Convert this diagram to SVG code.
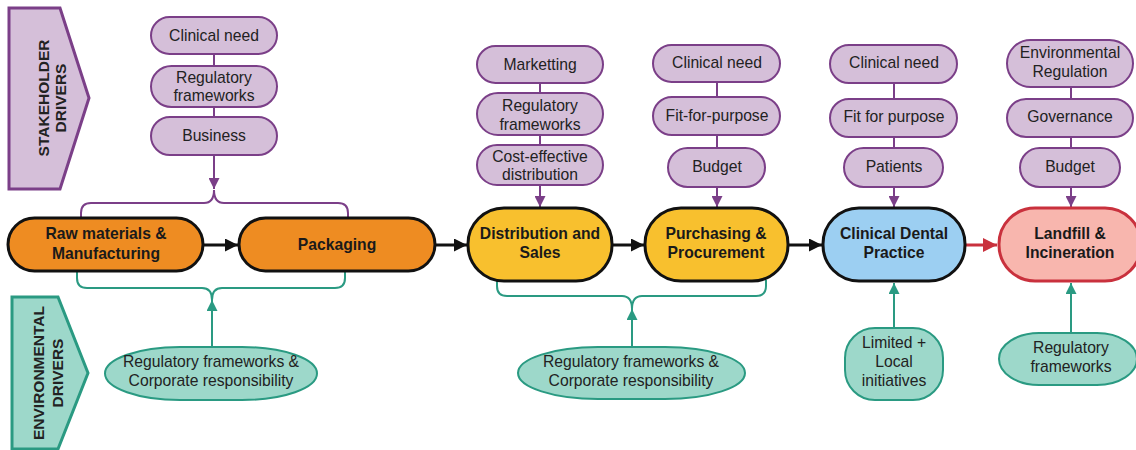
<svg xmlns="http://www.w3.org/2000/svg" width="1136" height="450" viewBox="0 0 1136 450">
<defs>
<style>
text{font-family:"Liberation Sans",Arial,sans-serif;fill:#222;text-anchor:middle}
.d{font-size:15.7px}
.m{font-size:15.7px;font-weight:bold;fill:#1a1a1a}
.lab{font-size:15.5px;font-weight:bold;fill:#222}
.sp{fill:#d5bfd9;stroke:#7b3f88;stroke-width:2}
.ep{fill:#9dd8ca;stroke:#2a9a82;stroke-width:2}
.or{fill:#ee8c22;stroke:#111;stroke-width:3}
.ye{fill:#f8c02e;stroke:#111;stroke-width:3}
.bl{fill:#9ccff2;stroke:#111;stroke-width:3}
.rd{fill:#f8b6ae;stroke:#c9313d;stroke-width:3}
.pl{stroke:#7b3f88;stroke-width:2;fill:none}
.tl{stroke:#2a9a82;stroke-width:2;fill:none}
.bk{stroke:#111;stroke-width:3;fill:none}
.rl{stroke:#c9313d;stroke-width:3;fill:none}
</style>
<marker id="ab" viewBox="0 0 10 10" refX="10" refY="5" markerWidth="15" markerHeight="13" markerUnits="userSpaceOnUse" orient="auto"><path d="M0,0 L10,5 L0,10 z" fill="#111"/></marker>
<marker id="ar" viewBox="0 0 10 10" refX="10" refY="5" markerWidth="16" markerHeight="14" markerUnits="userSpaceOnUse" orient="auto"><path d="M0,0 L10,5 L0,10 z" fill="#c9313d"/></marker>
<marker id="ap" viewBox="0 0 10 10" refX="10" refY="5" markerWidth="13" markerHeight="11" markerUnits="userSpaceOnUse" orient="auto"><path d="M0,0 L10,5 L0,10 z" fill="#7b3f88"/></marker>
<marker id="at" viewBox="0 0 10 10" refX="10" refY="5" markerWidth="14" markerHeight="11" markerUnits="userSpaceOnUse" orient="auto"><path d="M0,0 L10,5 L0,10 z" fill="#2a9a82"/></marker>
</defs>
<rect width="1136" height="450" fill="#fff"/>

<g id="stakeholder-label">
<path d="M9,8 L60,8 L89,98 L60,189 L9,189 Z" fill="#d5bfd9" stroke="#7b3f88" stroke-width="3"/>
<text class="lab" transform="translate(49,98) rotate(-90)">STAKEHOLDER</text>
<text class="lab" transform="translate(66,98) rotate(-90)">DRIVERS</text>
</g>
<g id="environmental-label">
<path d="M12,297 L58,297 L88,373 L58,449 L12,449 Z" fill="#9dd8ca" stroke="#2a9a82" stroke-width="3"/>
<text class="lab" transform="translate(44,373) rotate(-90)">ENVIRONMENTAL</text>
<text class="lab" transform="translate(63,373) rotate(-90)">DRIVERS</text>
</g>

<g id="connectors">
<line class="pl" x1="214" y1="54" x2="214" y2="66"/>
<line class="pl" x1="214" y1="107" x2="214" y2="117"/>
<line class="pl" x1="214" y1="155" x2="214" y2="189" marker-end="url(#ap)"/>
<path class="pl" d="M81,218 L81,213 Q81,203 91,203 L204,203 Q214,203 214,190 Q214,203 224,203 L338,203 Q348,203 348,213 L348,218"/>
<line class="pl" x1="540" y1="83" x2="540" y2="93"/>
<line class="pl" x1="540" y1="135" x2="540" y2="145"/>
<line class="pl" x1="540" y1="185" x2="540" y2="207" marker-end="url(#ap)"/>
<line class="pl" x1="717" y1="82" x2="717" y2="97"/>
<line class="pl" x1="717" y1="135" x2="717" y2="148"/>
<line class="pl" x1="717" y1="187" x2="717" y2="207" marker-end="url(#ap)"/>
<line class="pl" x1="894" y1="83" x2="894" y2="99"/>
<line class="pl" x1="894" y1="137" x2="894" y2="148"/>
<line class="pl" x1="894" y1="187" x2="894" y2="207" marker-end="url(#ap)"/>
<line class="pl" x1="1071" y1="87" x2="1071" y2="99"/>
<line class="pl" x1="1071" y1="137" x2="1071" y2="148"/>
<line class="pl" x1="1071" y1="187" x2="1071" y2="207" marker-end="url(#ap)"/>
<path class="tl" d="M77,271 L77,278 Q77,288 87,288 L202,288 Q212,288 212,300 Q212,288 222,288 L335,288 Q345,288 345,278 L345,271"/>
<line class="tl" x1="212" y1="347" x2="212" y2="300" marker-end="url(#at)"/>
<path class="tl" d="M497,280 L497,286 Q497,296 507,296 L622,296 Q632,296 632,309 Q632,296 642,296 L756,296 Q766,296 766,286 L766,280"/>
<line class="tl" x1="632" y1="347" x2="632" y2="309" marker-end="url(#at)"/>
<line class="tl" x1="894" y1="328" x2="894" y2="283" marker-end="url(#at)"/>
<line class="tl" x1="1071" y1="333" x2="1071" y2="283" marker-end="url(#at)"/>
<line class="bk" x1="204" y1="245" x2="238" y2="245" marker-end="url(#ab)"/>
<line class="bk" x1="436" y1="245" x2="467" y2="245" marker-end="url(#ab)"/>
<line class="bk" x1="613" y1="245" x2="644" y2="245" marker-end="url(#ab)"/>
<line class="bk" x1="789" y1="245" x2="822" y2="245" marker-end="url(#ab)"/>
<line class="rl" x1="966" y1="245" x2="997" y2="245" marker-end="url(#ar)"/>
</g>

<g id="s1-clinical-need"><rect class="sp" x="151" y="17" width="126" height="37" rx="18.5"/><text class="d" x="214" y="41">Clinical need</text></g>
<g id="s1-regulatory"><rect class="sp" x="151" y="66" width="126" height="41" rx="20.5"/><text class="d" x="214" y="83">Regulatory</text><text class="d" x="214" y="101">frameworks</text></g>
<g id="s1-business"><rect class="sp" x="151" y="117" width="126" height="38" rx="19"/><text class="d" x="214" y="141">Business</text></g>

<g id="s2-marketting"><rect class="sp" x="477" y="46" width="126" height="37" rx="18.5"/><text class="d" x="540" y="70">Marketting</text></g>
<g id="s2-regulatory"><rect class="sp" x="477" y="93" width="126" height="42" rx="21"/><text class="d" x="540" y="111">Regulatory</text><text class="d" x="540" y="130">frameworks</text></g>
<g id="s2-cost"><rect class="sp" x="477" y="145" width="126" height="40" rx="20"/><text class="d" x="540" y="162">Cost-effective</text><text class="d" x="540" y="180">distribution</text></g>

<g id="s3-clinical-need"><rect class="sp" x="653" y="45" width="127" height="37" rx="18.5"/><text class="d" x="717" y="68">Clinical need</text></g>
<g id="s3-fit"><rect class="sp" x="653" y="97" width="127" height="38" rx="19"/><text class="d" x="717" y="121">Fit-for-purpose</text></g>
<g id="s3-budget"><rect class="sp" x="668" y="148" width="97" height="39" rx="19.5"/><text class="d" x="717" y="172">Budget</text></g>

<g id="s4-clinical-need"><rect class="sp" x="830" y="45" width="127" height="38" rx="19"/><text class="d" x="894" y="68">Clinical need</text></g>
<g id="s4-fit"><rect class="sp" x="830" y="99" width="127" height="38" rx="19"/><text class="d" x="894" y="122">Fit for purpose</text></g>
<g id="s4-patients"><rect class="sp" x="844" y="148" width="99" height="39" rx="19.5"/><text class="d" x="894" y="172">Patients</text></g>

<g id="s5-env-reg"><rect class="sp" x="1007" y="40" width="126" height="47" rx="23.5"/><text class="d" x="1070" y="58">Environmental</text><text class="d" x="1070" y="77">Regulation</text></g>
<g id="s5-governance"><rect class="sp" x="1007" y="99" width="126" height="38" rx="19"/><text class="d" x="1070" y="122">Governance</text></g>
<g id="s5-budget"><rect class="sp" x="1020" y="148" width="100" height="39" rx="19.5"/><text class="d" x="1070" y="172">Budget</text></g>

<g id="n-raw"><rect class="or" x="8" y="218" width="195" height="53" rx="26.5"/><text class="m" x="106" y="239">Raw materials &amp;</text><text class="m" x="106" y="259">Manufacturing</text></g>
<g id="n-packaging"><rect class="or" x="239" y="218" width="196" height="53" rx="26.5"/><text class="m" x="337" y="250">Packaging</text></g>
<g id="n-distribution"><rect class="ye" x="468" y="208" width="144" height="73" rx="36"/><text class="m" x="540" y="239">Distribution and</text><text class="m" x="540" y="258">Sales</text></g>
<g id="n-purchasing"><rect class="ye" x="645" y="208" width="143" height="73" rx="36"/><text class="m" x="716" y="239">Purchasing &amp;</text><text class="m" x="716" y="258">Procurement</text></g>
<g id="n-clinical"><rect class="bl" x="823" y="208" width="142" height="73" rx="36"/><text class="m" x="894" y="239">Clinical Dental</text><text class="m" x="894" y="258">Practice</text></g>
<g id="n-landfill"><rect class="rd" x="999" y="208" width="142" height="73" rx="36"/><text class="m" x="1070" y="239">Landfill &amp;</text><text class="m" x="1070" y="258">Incineration</text></g>

<g id="e1-regulatory"><rect class="ep" x="105" y="347" width="212" height="53" rx="75" ry="26.5"/><text class="d" x="211" y="367">Regulatory frameworks &amp;</text><text class="d" x="211" y="386">Corporate responsibility</text></g>
<g id="e2-regulatory"><rect class="ep" x="518" y="347" width="227" height="52" rx="80" ry="26"/><text class="d" x="631" y="367">Regulatory frameworks &amp;</text><text class="d" x="631" y="386">Corporate responsibility</text></g>
<g id="e4-limited"><rect class="ep" x="845" y="328" width="98" height="72" rx="30" ry="30"/><text class="d" x="894" y="348">Limited +</text><text class="d" x="894" y="367">Local</text><text class="d" x="894" y="386">initiatives</text></g>
<g id="e5-regulatory"><rect class="ep" x="999" y="333" width="138" height="52" rx="40" ry="26"/><text class="d" x="1071" y="353">Regulatory</text><text class="d" x="1071" y="372">frameworks</text></g>
</svg>
